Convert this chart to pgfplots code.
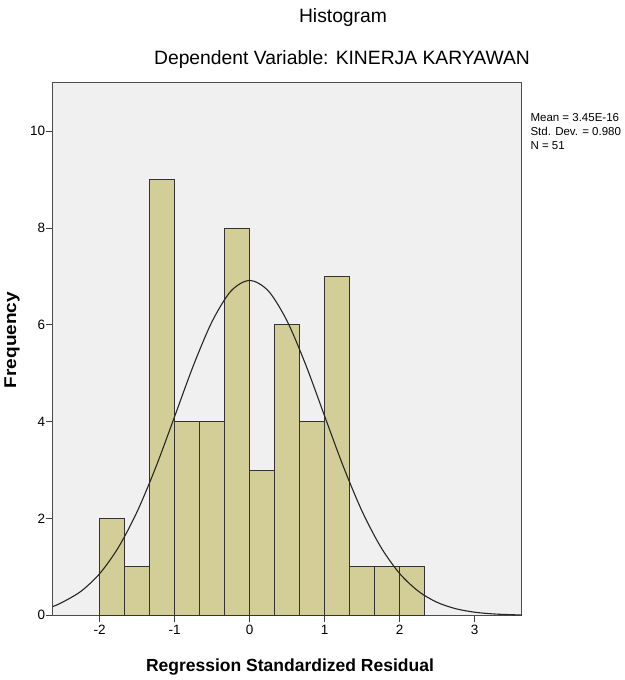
\documentclass[border=0pt]{standalone}
\usepackage{pgfplots}
\pgfplotsset{compat=1.18}
\usepackage{fontspec}
\setmainfont{Liberation Sans}

\definecolor{barfill}{RGB}{211,206,151}
\definecolor{plotbg}{RGB}{240,240,240}

\begin{document}
\begin{tikzpicture}
\useasboundingbox (0pt,0pt) rectangle (624pt,680pt);

\begin{axis}[
    at={(52.7pt,64.7pt)}, anchor=south west,
    scale only axis,
    width=469pt, height=532.4pt,
    xmin=-2.627, xmax=3.627,
    ymin=0, ymax=11,
    xtick={-2,-1,0,1,2,3},
    ytick={0,2,4,6,8,10},
    tick align=outside,
    major tick length=7pt,
    xtick pos=bottom, ytick pos=left,
    tick style={black!75, line width=0.8pt},
    axis background/.style={fill=plotbg},
    axis line style={black!70, line width=0.8pt},
    ticklabel style={font=\fontsize{13.5}{15}\selectfont},
    /pgf/number format/assume math mode=true,
    xticklabel style={yshift=1pt},
    yticklabel style={xshift=3pt},
]
\addplot[ybar interval, fill=barfill, draw=black!80, line width=0.8pt]
coordinates {
(-2,2)(-1.667,1)(-1.333,9)(-1,4)(-0.667,4)(-0.333,8)(0,3)(0.333,6)(0.667,4)(1,7)(1.333,1)(1.667,1)(2,1)(2.333,1)
};
\addplot[smooth, black!85, line width=1.1pt]
coordinates {
(-2.627,0.18)(-2.5,0.267)(-2.25,0.496)(-2,0.862)(-1.75,1.405)(-1.5,2.145)(-1.25,3.068)(-1,4.112)(-0.75,5.164)(-0.5,6.075)(-0.25,6.699)(0,6.92)
(0.25,6.699)(0.5,6.075)(0.75,5.164)(1,4.112)(1.25,3.068)(1.5,2.145)(1.75,1.405)(2,0.862)(2.25,0.496)(2.5,0.267)(2.75,0.135)(3,0.064)(3.25,0.028)(3.5,0.012)(3.627,0.007)
};
\end{axis}

% titles and labels (positions follow the reference, y from bottom)
\node[font=\fontsize{19.3}{21}\selectfont] at (343pt,662pt) {Histogram};
\node[font=\fontsize{19.3}{21}\selectfont] at (342pt,620pt) {Dependent Variable: KINERJA KARYAWAN};
\node[font=\bfseries\fontsize{17.5}{19}\selectfont] at (290pt,13pt) {Regression Standardized Residual};
\node[font=\bfseries\fontsize{17}{18}\selectfont, rotate=90] at (12pt,340pt) {\scalebox{1.12}[1]{Frequency}};
\node[font=\fontsize{11.5}{14}\selectfont, anchor=north west, align=left] at (527pt,570pt)
  {Mean = 3.45E-16\\Std. Dev. = 0.980\\N = 51};
\end{tikzpicture}
\end{document}
